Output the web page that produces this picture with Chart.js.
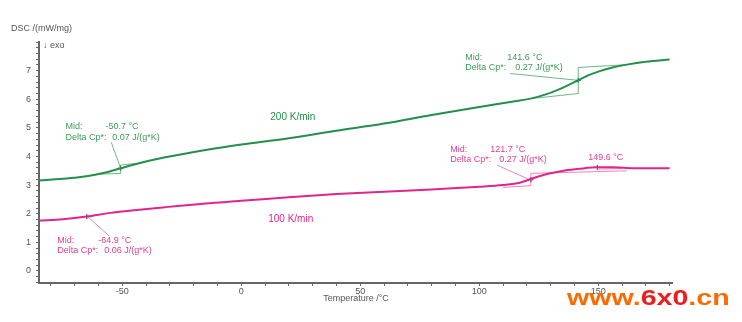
<!DOCTYPE html>
<html lang="en">
<head>
<meta charset="UTF-8">
<title>DSC curves</title>
<script src="https://cdn.jsdelivr.net/npm/chart.js"></script>
<style>
  html, body { margin: 0; padding: 0; background: #fff; }
  #wrap { position: relative; width: 742px; height: 322px; }
  #mark {
    position: absolute; left: 567px; top: 285px;
    font: bold 22px "Liberation Sans", Arial, sans-serif;
    transform: scaleX(1.3); transform-origin: left top;
    white-space: nowrap;
  }
  #mark .o { color: #ff6a00; }
  #mark .r { color: #ee1c1c; }
</style>
</head>
<body>
<div id="wrap">
  <canvas id="dscChart" width="742" height="322"></canvas>
  <div id="mark"><span class="o">www.</span><span class="r">6x0</span><span class="o">.cn</span></div>
</div>
<script>
// Temperatures (°C) and DSC signal (mW/mg)
const temp200 = [-85, -75, -65, -58, -51, -45, -32, -15, 0, 20, 40, 60, 80, 100, 115, 122, 128, 133, 138, 142, 146, 151, 156, 162, 170, 180];
const dsc200  = [3.16, 3.22, 3.31, 3.42, 3.58, 3.72, 3.97, 4.23, 4.42, 4.64, 4.90, 5.15, 5.45, 5.73, 5.93, 6.03, 6.17, 6.33, 6.52, 6.68, 6.84, 6.99, 7.11, 7.21, 7.31, 7.39];

const temp100 = [-85, -75, -65, -55, -45, -32, -15, 0, 20, 40, 60, 80, 100, 110, 117, 122, 126, 131, 136, 142, 149.6, 156, 165, 180];
const dsc100  = [1.76, 1.81, 1.90, 2.03, 2.12, 2.23, 2.36, 2.45, 2.58, 2.69, 2.77, 2.85, 2.94, 3.00, 3.08, 3.22, 3.33, 3.43, 3.51, 3.57, 3.62, 3.62, 3.59, 3.59];

// evaluated points (glass transitions / peak)
const midTemp200 = [-50.7, 141.6];
const midDsc200  = [3.59, 6.66];
const midTemp100 = [-64.9, 121.7, 149.6];
const midDsc100  = [1.90, 3.19, 3.62];

// tangent construction lines, [T1, v1, T2, v2]
const steps200 = [
  [-60, 3.38, -50.7, 3.41], [-50.7, 3.41, -50.7, 3.70], [-50.7, 3.70, -44, 3.76],
  [122.7, 6.03, 141.6, 6.20], [141.6, 6.20, 141.6, 7.11], [141.6, 7.11, 162.3, 7.21]
];
const leaders200 = [[-54.6, 4.49, -50.7, 3.59], [113, 6.90, 141.6, 6.66]];
const steps100 = [
  [110, 2.92, 121.7, 2.98], [121.7, 2.98, 121.7, 3.41], [121.7, 3.41, 162, 3.50],
  [149.6, 3.56, 160, 3.58]
];
const leaders100 = [[-64.6, 1.90, -55.5, 1.22], [107.7, 3.69, 121.7, 3.17]];

const xLabels = [-50, 0, 50, 100, 150];
const yLabels = [0, 1, 2, 3, 4, 5, 6, 7];

const green = '#22904a';
const greenText = '#3c9c55';
const greenThin = 'rgba(60, 160, 90, 0.75)';
const pink = '#e0268a';
const pinkText = '#e2408f';
const pinkThin = 'rgba(230, 80, 150, 0.7)';
const axisGrey = '#666';
const FONT = '"Liberation Sans", Arial, sans-serif';

function toPoints(xs, ys) {
  return xs.map((x, i) => ({ x: x, y: ys[i] }));
}

function segmentSets(segs, color) {
  return segs.map(s => ({
    data: [{ x: s[0], y: s[1] }, { x: s[2], y: s[3] }],
    borderColor: color,
    borderWidth: 1,
    pointRadius: 0,
    tension: 0
  }));
}

// annotation texts, anchored in data units
const notes = [
  { t: 'Mid:', x: -73.9, y: 5.03, c: greenText },
  { t: '-50.7 °C', x: -57.1, y: 5.03, c: greenText },
  { t: 'Delta Cp*:', x: -73.9, y: 4.68, c: greenText },
  { t: '0.07 J/(g*K)', x: -54.2, y: 4.68, c: greenText },
  { t: '200 K/min', x: 12.2, y: 5.38, c: green, size: 10 },
  { t: 'Mid:', x: 94.1, y: 7.45, c: greenText },
  { t: '141.6 °C', x: 111.8, y: 7.45, c: greenText },
  { t: 'Delta Cp*:', x: 94.1, y: 7.10, c: greenText },
  { t: '0.27 J/(g*K)', x: 115.1, y: 7.10, c: greenText },
  { t: 'Mid:', x: -77.3, y: 1.07, c: pinkText },
  { t: '-64.9 °C', x: -60.1, y: 1.07, c: pinkText },
  { t: 'Delta Cp*:', x: -77.3, y: 0.72, c: pinkText },
  { t: '0.06 J/(g*K)', x: -57.6, y: 0.72, c: pinkText },
  { t: '100 K/min', x: 11.3, y: 1.82, c: pink, size: 10 },
  { t: 'Mid:', x: 87.8, y: 4.23, c: pinkText },
  { t: '121.7 °C', x: 104.6, y: 4.23, c: pinkText },
  { t: 'Delta Cp*:', x: 87.8, y: 3.88, c: pinkText },
  { t: '0.27 J/(g*K)', x: 108.4, y: 3.88, c: pinkText },
  { t: '149.6 °C', x: 145.8, y: 3.95, c: pinkText }
];

const textPlugin = {
  id: 'dscText',
  afterDraw(chart) {
    const ctx = chart.ctx;
    const xs = chart.scales.x, ys = chart.scales.y;
    ctx.save();
    ctx.textBaseline = 'middle';
    ctx.textAlign = 'left';
    notes.forEach(n => {
      ctx.font = (n.size || 9) + 'px ' + FONT;
      ctx.fillStyle = n.c;
      ctx.fillText(n.t, xs.getPixelForValue(n.x), ys.getPixelForValue(n.y));
    });
    // axis titles
    ctx.fillStyle = '#555';
    ctx.font = '9px ' + FONT;
    ctx.fillText('DSC /(mW/mg)', 11, 29);
    ctx.fillText('\u2193 exo', 43, 46);
    ctx.textAlign = 'center';
    ctx.fillText('Temperature /°C', 356, 299);
    ctx.restore();
  }
};

const datasets = [
  {
    data: toPoints(temp200, dsc200),
    borderColor: green, borderWidth: 2, pointRadius: 0,
    cubicInterpolationMode: 'monotone'
  },
  {
    data: toPoints(temp100, dsc100),
    borderColor: pink, borderWidth: 2, pointRadius: 0,
    cubicInterpolationMode: 'monotone'
  }
].concat(
  segmentSets(steps200, greenThin),
  segmentSets(leaders200, greenThin),
  segmentSets(steps100, pinkThin),
  segmentSets(leaders100, pinkThin),
  [{
    data: toPoints(midTemp200, midDsc200).concat(toPoints(midTemp100, midDsc100)),
    showLine: false, pointStyle: 'cross', pointRadius: 2.5,
    pointBorderColor: '#333', pointBorderWidth: 1
  }]
);

new Chart(document.getElementById('dscChart').getContext('2d'), {
  type: 'line',
  data: { datasets: datasets },
  options: {
    responsive: false,
    animation: false,
    layout: { padding: { left: 0, top: 42, right: 70, bottom: 0 } },
    plugins: { legend: { display: false }, tooltip: { enabled: false } },
    scales: {
      x: {
        type: 'linear',
        min: -85, max: 181,
        afterFit: s => { s.height = 39; },
        afterBuildTicks: s => {
          const t = [];
          for (let v = -80; v <= 180; v += 10) t.push({ value: v });
          s.ticks = t;
        },
        grid: { drawOnChartArea: false, drawTicks: true, tickLength: 3, tickColor: axisGrey, tickWidth: 1 },
        border: { color: axisGrey, width: 2 },
        ticks: {
          autoSkip: false, maxRotation: 0, padding: 0,
          color: '#555', font: { family: FONT, size: 9 },
          callback: v => xLabels.includes(v) ? String(v) : ''
        }
      },
      y: {
        type: 'linear',
        min: -0.42, max: 8.0,
        afterFit: s => { s.width = 39; },
        afterBuildTicks: s => {
          const t = [];
          for (let i = -2; i <= 40; i++) t.push({ value: Math.round(i * 2) / 10 });
          s.ticks = t;
        },
        grid: { drawOnChartArea: false, drawTicks: true, tickLength: 3, tickColor: axisGrey, tickWidth: 1 },
        border: { color: axisGrey, width: 2 },
        ticks: {
          autoSkip: false, padding: 5,
          color: '#555', font: { family: FONT, size: 9 },
          callback: v => yLabels.includes(v) ? String(v) : ''
        }
      }
    }
  },
  plugins: [textPlugin]
});
</script>
</body>
</html>
